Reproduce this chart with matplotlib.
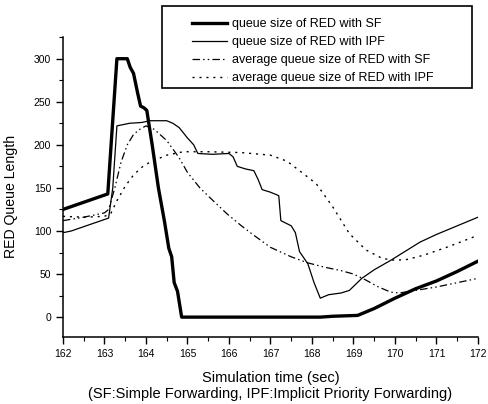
import matplotlib

matplotlib.use("Agg")
import matplotlib.pyplot as plt
from matplotlib.patches import Rectangle
from matplotlib.ticker import MultipleLocator

plt.rcParams["font.family"] = ["Liberation Sans", "DejaVu Sans"]

# queue size of RED with SF
sf_t = [162.0, 162.3, 162.6, 162.9, 163.08, 163.3, 163.55, 163.62, 163.7, 163.8,
        163.87, 163.95, 164.02, 164.15, 164.3, 164.45, 164.55, 164.62, 164.68, 164.76,
        164.86, 168.2, 168.5, 169.1, 169.5, 170.0, 170.5, 171.0, 171.5, 172.0]
sf_q = [125, 130, 135, 140, 143, 300, 300, 290, 283, 260,
        245, 243, 240, 200, 150, 110, 80, 70, 40, 30,
        0, 0, 1, 2, 10, 22, 33, 42, 53, 65]

# queue size of RED with IPF
ipf_t = [162.0, 162.2, 162.5, 162.8, 163.1, 163.2, 163.3, 163.6, 163.9, 164.1,
         164.5, 164.65, 164.8, 165.0, 165.15, 165.25, 165.6, 166.0, 166.1, 166.2,
         166.4, 166.6, 166.7, 166.8, 167.0, 167.2, 167.25, 167.5, 167.6, 167.7,
         167.9, 168.05, 168.2, 168.4, 168.7, 168.9, 169.2, 169.5, 169.9, 170.3,
         170.6, 171.0, 171.5, 172.0]
ipf_q = [98, 100, 105, 110, 115, 150, 222, 225, 226, 228,
         228, 225, 220, 208, 200, 190, 189, 190, 186, 175,
         172, 170, 160, 148, 145, 141, 112, 106, 98, 76,
         62, 40, 22, 26, 28, 31, 45, 55, 66, 78,
         87, 96, 106, 116]

# average queue size of RED with SF
sf_avg_t = [162.0, 162.5, 163.0, 163.1, 163.25, 163.4, 163.55, 163.7, 163.85, 164.0,
            164.2, 164.5, 164.8, 165.0, 165.3, 165.6, 165.95, 166.3, 166.6, 167.0,
            167.5, 167.9, 168.3, 168.7, 169.0, 169.3, 169.6, 169.9, 170.1, 170.5,
            171.0, 171.5, 172.0]
sf_avg_q = [112, 116, 121, 125, 150, 180, 200, 212, 218, 222,
            218, 205, 185, 168, 150, 136, 120, 106, 95, 81,
            70, 63, 58, 54, 50, 43, 35, 29, 28, 31,
            35, 40, 45]

# average queue size of RED with IPF
ipf_avg_t = [162.0, 162.5, 163.0, 163.15, 163.3, 163.5, 163.7, 163.9, 164.1, 164.3,
             164.5, 164.9, 165.5, 166.3, 167.0, 167.4, 167.7, 168.1, 168.5, 168.9,
             169.3, 169.7, 170.0, 170.3, 170.7, 171.3, 172.0]
ipf_avg_q = [117, 116, 117, 120, 135, 152, 165, 174, 180, 184,
             188, 192, 192, 191, 188, 181, 170, 155, 128, 97,
             78, 68, 66, 67, 72, 82, 95]

labels = [
    "queue size of RED with SF",
    "queue size of RED with IPF",
    "average queue size of RED with SF",
    "average queue size of RED with IPF",
]

fig = plt.figure(figsize=(4.88, 4.04), dpi=100)
ax = fig.add_axes([0.129, 0.166, 0.8505, 0.742])

ax.plot(sf_t, sf_q, color="black", lw=2.4, label=labels[0])
ax.plot(ipf_t, ipf_q, color="black", lw=0.9, label=labels[1])
ax.plot(sf_avg_t, sf_avg_q, color="black", lw=0.9, dashes=(6, 2.5, 1.2, 2.5, 1.2, 2.5),
        label=labels[2])
ax.plot(ipf_avg_t, ipf_avg_q, color="black", lw=1.0, dashes=(1.5, 3.5), label=labels[3])

ax.set_xlim(162, 172)
ax.set_ylim(-23, 325)
ax.xaxis.set_major_locator(MultipleLocator(1))
ax.xaxis.set_minor_locator(MultipleLocator(0.5))
ax.set_yticks(range(0, 301, 50))
ax.yaxis.set_minor_locator(MultipleLocator(25))
ax.tick_params(which="major", direction="out", length=5, width=1, labelsize=7.5)
ax.tick_params(which="minor", direction="out", length=3, width=0.8)

for side in ("top", "right"):
    ax.spines[side].set_visible(False)
for side in ("left", "bottom"):
    ax.spines[side].set_linewidth(1.1)

ax.set_ylabel("RED Queue Length", fontsize=10.2)
ax.yaxis.set_label_coords(-0.108, 0.47)
ax.set_xlabel("Simulation time (sec)\n(SF:Simple Forwarding, IPF:Implicit Priority Forwarding)",
              fontsize=10.5, labelpad=9, linespacing=1.15)

fig.patches.append(Rectangle((0.332, 0.782), 0.635, 0.203, transform=fig.transFigure,
                             fill=False, edgecolor="black", lw=1.2))
fig.legend(loc="upper left", bbox_to_anchor=(0.375, 0.977), frameon=False,
           fontsize=9, handlelength=2.8, handletextpad=0.4, labelspacing=0.48,
           borderpad=0.2)

fig.savefig("out.png", dpi=100)
